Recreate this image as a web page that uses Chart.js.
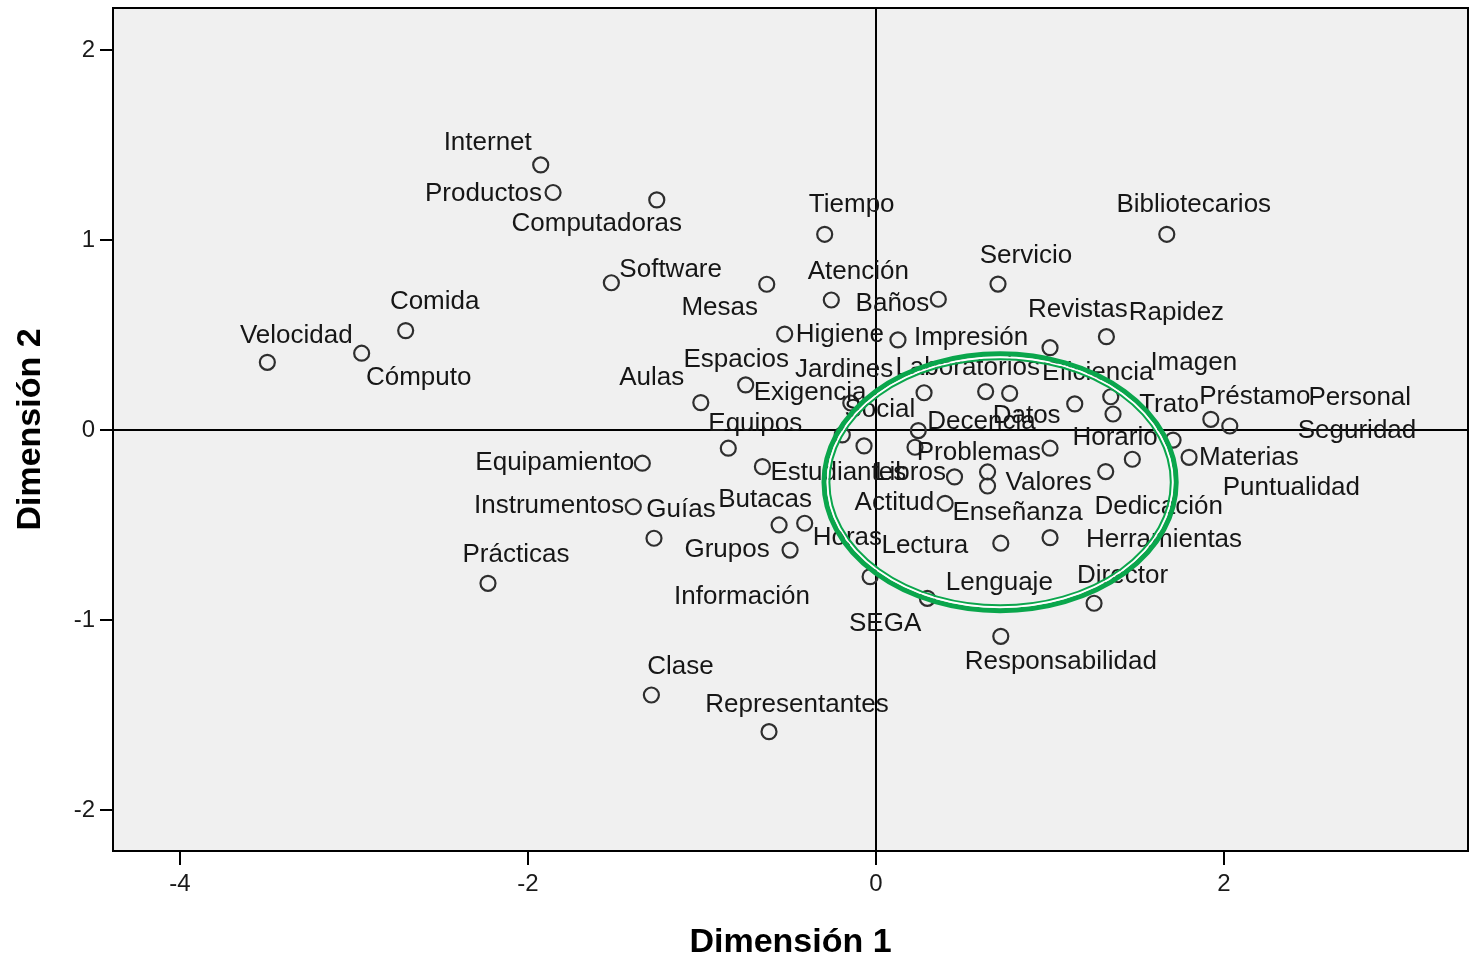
<!DOCTYPE html>
<html><head><meta charset="utf-8">
<script src="https://cdn.jsdelivr.net/npm/chart.js@4/dist/chart.umd.min.js"></script>
<style>html,body{margin:0;padding:0;background:#fff;}#wrap{width:1472px;height:959px;}</style>
</head><body><div id="wrap"><canvas id="c" width="1472" height="959"></canvas></div>
<script>
const names = ["Internet","Productos","Computadoras","Tiempo","Bibliotecarios","Software","Mesas","Servicio","Comida","Velocidad",
"Cómputo","Atención","Baños","Higiene","Impresión","Revistas","Rapidez","Exigencia","Aulas","Social",
"Jardines","Laboratorios","Datos","Eficiencia","Imagen","Trato","Préstamo","Personal","Equipos","Espacios",
"Información","Decencia","Seguridad","Problemas","Horario","Materias","Puntualidad","Dedicación","Equipamiento","Estudiantes",
"Libros","Valores","Enseñanza","Actitud","Instrumentos","Guías","Butacas","Horas","Grupos","Lectura",
"Herramientas","Prácticas","SEGA","Lenguaje","Director","Responsabilidad","Clase","Representantes"];
const dim1 = [-1.927,-1.856,-1.260,-0.295,1.671,-1.521,-0.628,0.701,-2.703,-3.498,
-2.956,-0.257,0.358,-0.525,0.126,1.000,1.324,-0.749,-1.007,-0.145,
0.276,0.630,0.768,1.142,1.349,1.362,1.924,2.033,-0.849,-0.194,
-0.069,0.243,0.224,1.000,1.707,1.799,1.473,1.320,-1.343,-0.653,
0.451,0.641,0.641,0.397,-1.395,-1.276,-0.557,-0.410,-0.494,0.717,
1.000,-2.230,-0.034,0.295,1.253,0.717,-1.291,-0.615];
const dim2 = [1.395,1.250,1.211,1.030,1.030,0.775,0.767,0.768,0.523,0.356,
0.404,0.684,0.688,0.505,0.474,0.433,0.491,0.237,0.144,0.142,
0.196,0.202,0.193,0.137,0.175,0.084,0.056,0.021,-0.096,-0.026,
-0.084,-0.003,-0.091,-0.096,-0.053,-0.144,-0.154,-0.219,-0.175,-0.193,
-0.247,-0.221,-0.295,-0.386,-0.404,-0.570,-0.500,-0.491,-0.632,-0.596,
-0.567,-0.807,-0.772,-0.886,-0.912,-1.086,-1.395,-1.588];
const xTicks = [-4,-2,0,2];
const yTicks = [-2,-1,0,1,2];
const xTitle = "Dimensión 1";
const yTitle = "Dimensión 2";

// label placement relative to each point (pixels): [dx, dy, align]
const labelOffsets = [
[-53,-22,'c'],[-11,1,'r'],[-60,24,'c'],[27,-29,'c'],[27,-29,'c'],[8,-13,'l'],[-47,24,'c'],[28,-28,'c'],[29,-29,'c'],[29,-27,'c'],
[57,25,'c'],[27,-28,'c'],[-9,5,'r'],[11,1,'l'],[16,-2,'l'],[-22,-38,'l'],[70,-24,'c'],[8,8,'l'],[-49,-25,'c'],[29,7,'c'],
[-80,-23,'c'],[-18,-24,'c'],[17,23,'c'],[23,-31,'c'],[83,-34,'c'],[56,-9,'c'],[44,-23,'c'],[130,-28,'c'],[27,-24,'c'],[-106,-75,'c'],
[-122,151,'c'],[9,-9,'l'],[442,-16,'c'],[-9,5,'r'],[-58,-2,'c'],[10,0,'l'],[159,29,'c'],[53,35,'c'],[-8,0,'r'],[8,6,'l'],
[-44,-4,'c'],[18,11,'l'],[30,27,'c'],[-11,0,'r'],[-9,-1,'r'],[27,-28,'c'],[-14,-25,'c'],[8,15,'l'],[-63,0,'c'],[-76,3,'c'],
[36,2,'l'],[28,-28,'c'],[15,47,'c'],[72,-15,'c'],[-17,-27,'l'],[60,26,'c'],[29,-28,'c'],[28,-27,'c']];

const highlight = {cx:0.713, cy:-0.275, rx:1.012, ry:0.676};

const FONT = '"Liberation Sans", Arial, sans-serif';

const bgPlugin = {
  id:'bg',
  beforeDraw(chart){
    const {ctx, chartArea:a} = chart;
    ctx.save(); ctx.fillStyle='#f0f0f0'; ctx.fillRect(a.left,a.top,a.right-a.left,a.bottom-a.top); ctx.restore();
  }
};
const labelPlugin = {
  id:'ptlabels',
  afterDatasetsDraw(chart){
    const ctx = chart.ctx; const meta = chart.getDatasetMeta(0);
    ctx.save();
    ctx.font = '26px ' + FONT; ctx.fillStyle = '#161616'; ctx.textBaseline = 'middle';
    meta.data.forEach((el,i)=>{
      const o = labelOffsets[i];
      ctx.textAlign = o[2]==='l'?'left':(o[2]==='r'?'right':'center');
      ctx.fillText(names[i], el.x + o[0], el.y + o[1]);
    });
    ctx.restore();
  }
};
const framePlugin = {
  id:'frame',
  afterDraw(chart){
    const {ctx, chartArea:a, scales} = chart;
    ctx.save();
    ctx.strokeStyle='#000'; ctx.lineWidth=2;
    ctx.strokeRect(a.left,a.top,a.right-a.left,a.bottom-a.top);
    const xs = scales.x, ys = scales.y;
    const cx = xs.getPixelForValue(highlight.cx), cy = ys.getPixelForValue(highlight.cy);
    const rx = xs.getPixelForValue(highlight.cx+highlight.rx)-cx;
    const ry = ys.getPixelForValue(highlight.cy-highlight.ry)-cy;
    const ring = (d,w,c)=>{ctx.beginPath();ctx.ellipse(cx,cy,rx-d,ry-d,0,0,Math.PI*2);ctx.lineWidth=w;ctx.strokeStyle=c;ctx.stroke();};
    ring(0,5,'#0aa64c');
    ring(3.6,1.8,'#ffffff');
    ring(5.4,2,'#0aa64c');
    ctx.restore();
  }
};

new Chart(document.getElementById('c'), {
  type:'scatter',
  data:{datasets:[{
    data: names.map((n,i)=>({x:dim1[i], y:dim2[i]})),
    pointRadius:7.5, pointHoverRadius:7.5, pointBorderWidth:2.2,
    pointBorderColor:'#2e2e2e', pointBackgroundColor:'rgba(0,0,0,0)', showLine:false
  }]},
  options:{
    responsive:false, devicePixelRatio:1, animation:false,
    events:[],
    layout:{autoPadding:false, padding:{top:8,right:4,left:0,bottom:0}},
    plugins:{legend:{display:false}, tooltip:{enabled:false}},
    scales:{
      x:{
        type:'linear', min:-4.385, max:3.402,
        afterBuildTicks(s){ s.ticks = xTicks.map(v=>({value:v})); },
        afterFit(s){ s.height = 108; s.paddingLeft = 0; s.paddingRight = 0; },
        ticks:{font:{family:FONT,size:24}, color:'#1a1a1a', padding:5, callback:v=>String(v)},
        grid:{color:c=>c.tick && c.tick.value===0?'#000':'rgba(0,0,0,0)', lineWidth:2, tickLength:14, tickColor:'#000', tickWidth:2},
        border:{display:true, color:'#000', width:2},
        title:{display:true, text:xTitle, font:{family:FONT,size:34,weight:'bold'}, color:'#000', padding:{top:0,bottom:-4}}
      },
      y:{
        type:'linear', min:-2.216, max:2.221,
        afterBuildTicks(s){ s.ticks = yTicks.map(v=>({value:v})); },
        afterFit(s){ s.width = 113; s.paddingTop = 0; s.paddingBottom = 0; },
        ticks:{font:{family:FONT,size:24}, color:'#1a1a1a', padding:5, callback:v=>String(v)},
        grid:{color:c=>c.tick && c.tick.value===0?'#000':'rgba(0,0,0,0)', lineWidth:2, tickLength:13, tickColor:'#000', tickWidth:2},
        border:{display:true, color:'#000', width:2},
        title:{display:true, text:yTitle, font:{family:FONT,size:34,weight:'bold'}, color:'#000', padding:{top:10,bottom:0}}
      }
    }
  },
  plugins:[bgPlugin, labelPlugin, framePlugin]
});
</script></body></html>
